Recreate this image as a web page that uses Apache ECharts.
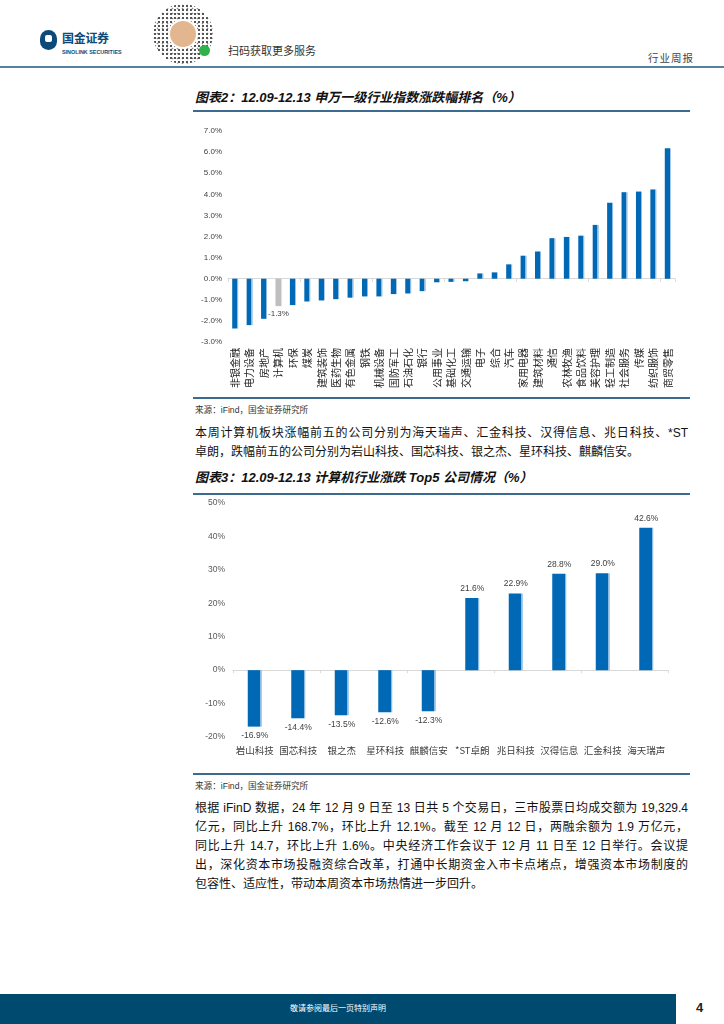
<!DOCTYPE html>
<html>
<head>
<meta charset="utf-8">
<script src="https://cdn.jsdelivr.net/npm/echarts@6/dist/echarts.min.js"></script>
<style>
  html, body { margin:0; padding:0; background:#fff; }
  body { width:724px; height:1024px; position:relative; overflow:hidden;
         font-family:"Liberation Sans", Arial, "Noto Sans CJK SC", sans-serif; color:#222; }
  .abs { position:absolute; white-space:nowrap; }
  .hline { position:absolute; height:2px; background:#3d6b8f; }
  .title { font-size:13px; font-weight:bold; font-style:italic; color:#111; }
  .src { font-size:8.6px; color:#333; }
  .para { font-size:12px; color:#111; width:493px; height:19px; line-height:19px; }
  .just { text-align:justify; text-align-last:justify; }
  #chart { position:absolute; left:0; top:0; width:724px; height:1024px; }
</style>
</head>
<body>
<!-- header -->
<div class="abs" style="left:40px;top:30px;width:17px;height:20px;border-radius:9px;background:#0d4a78;"></div>
<div class="abs" style="left:45px;top:35px;width:7px;height:7px;background:#fff;border-radius:2px;"></div>
<div class="abs" style="left:62px;top:32px;font-size:12px;font-weight:bold;color:#0d4a78;line-height:15px;letter-spacing:-0.3px;">国金证券</div>
<div class="abs" style="left:62px;top:49px;font-size:5.4px;font-weight:bold;color:#0d4a78;line-height:7px;">SINOLINK SECURITIES</div>
<div class="abs" style="left:153px;top:4px;width:60px;height:60px;border-radius:50%;
  background:radial-gradient(circle,#555 0 0.9px,transparent 1.3px) 0 0/4px 4px,
             radial-gradient(circle,#888 0 0.7px,transparent 1.1px) 2px 2px/5px 5px,#fff;"></div>
<div class="abs" style="left:168px;top:19px;width:30px;height:30px;border-radius:50%;background:#fff;"></div>
<div class="abs" style="left:170px;top:21px;width:26px;height:26px;border-radius:50%;background:#e2b68e;"></div>
<div class="abs" style="left:199px;top:45px;width:11px;height:11px;border-radius:50%;background:#2db34a;"></div>
<div class="abs" style="left:228px;top:44px;font-size:11px;color:#333;line-height:14px;">扫码获取更多服务</div>
<div class="abs" style="left:648px;top:51px;font-size:10.5px;color:#444;line-height:14px;letter-spacing:1px;">行业周报</div>
<div class="hline" style="left:0;top:66px;width:724px;background:#58809f;"></div>

<!-- figure 2 -->
<div class="abs title" style="left:195px;top:90px;line-height:16px;">图表2：12.09-12.13 申万一级行业指数涨跌幅排名（%）</div>
<div class="hline" style="left:193px;top:110px;width:497px;"></div>
<div class="hline" style="left:193px;top:397px;width:497px;"></div>
<div class="abs src" style="left:195px;top:405px;line-height:10px;">来源：iFind，国金证券研究所</div>
<div class="abs para just" style="left:195px;top:424px;">本周计算机板块涨幅前五的公司分别为海天瑞声、汇金科技、汉得信息、兆日科技、*ST</div>
<div class="abs para" style="left:195px;top:443px;">卓朗，跌幅前五的公司分别为岩山科技、国芯科技、银之杰、星环科技、麒麟信安。</div>

<!-- figure 3 -->
<div class="abs title" style="left:195px;top:470px;line-height:16px;">图表3：12.09-12.13 计算机行业涨跌 Top5 公司情况（%）</div>
<div class="hline" style="left:193px;top:493px;width:497px;"></div>
<div class="hline" style="left:193px;top:773px;width:497px;"></div>
<div class="abs src" style="left:195px;top:781px;line-height:10px;">来源：iFind，国金证券研究所</div>
<div class="abs para just" style="left:195px;top:799px;">根据 iFinD 数据，24 年 12 月 9 日至 13 日共 5 个交易日，三市股票日均成交额为 19,329.4</div>
<div class="abs para just" style="left:195px;top:818px;">亿元，同比上升 168.7%，环比上升 12.1%。截至 12 月 12 日，两融余额为 1.9 万亿元，</div>
<div class="abs para just" style="left:195px;top:837px;">同比上升 14.7，环比上升 1.6%。中央经济工作会议于 12 月 11 日至 12 日举行。会议提</div>
<div class="abs para just" style="left:195px;top:856px;">出，深化资本市场投融资综合改革，打通中长期资金入市卡点堵点，增强资本市场制度的</div>
<div class="abs para" style="left:195px;top:875px;">包容性、适应性，带动本周资本市场热情进一步回升。</div>

<!-- footer -->
<div class="abs" style="left:0;top:994px;width:676px;height:30px;background:#004a6f;"></div>
<div class="abs" style="left:0;top:994px;width:676px;height:30px;line-height:30px;text-align:center;font-size:8px;color:#fff;">敬请参阅最后一页特别声明</div>
<div class="abs" style="left:696px;top:1000px;font-size:13px;font-weight:bold;color:#222;line-height:16px;">4</div>

<div id="chart"></div>
<script>
// ---------- data: figure 2 (SW level-1 industries, weekly change %) ----------
const industries = ['非银金融','电力设备','房地产','计算机','环保','煤炭','建筑装饰','医药生物','有色金属','钢铁',
  '机械设备','国防军工','石油石化','银行','公用事业','基础化工','交通运输','电子','综合','汽车',
  '家用电器','建筑材料','通信','农林牧渔','食品饮料','美容护理','轻工制造','社会服务','传媒','纺织服饰','商贸零售'];
const industryChange = [-2.36,-2.20,-1.90,-1.30,-1.25,-1.08,-1.03,-0.97,-0.90,-0.84,
  -0.84,-0.73,-0.70,-0.59,-0.17,-0.15,-0.12,0.25,0.30,0.68,
  1.09,1.29,1.92,1.98,2.04,2.55,3.60,4.10,4.13,4.23,6.18];
const highlightIndustry = '计算机';
const industryTicks = [-3, 7, 1];   // min, max, interval

// ---------- data: figure 3 (computer sector top/bottom 5, %) ----------
const companies = ['岩山科技','国芯科技','银之杰','星环科技','麒麟信安','*ST卓朗','兆日科技','汉得信息','汇金科技','海天瑞声'];
const companyChange = [-16.9,-14.4,-13.5,-12.6,-12.3,21.6,22.9,28.8,29.0,42.6];
const companyTicks = [-20, 50, 10];

const BLUE = '#0068b5', EDGE = '#8dbbe1', GRAY = '#bfbfbf';
function barFill(c, edge, cut) {
  return { type:'linear', x:0, y:0, x2:1, y2:0,
    colorStops:[{offset:0,color:c},{offset:cut,color:c},{offset:cut,color:edge},{offset:1,color:edge}] };
}

const chart = echarts.init(document.getElementById('chart'), null, {renderer:'canvas'});
chart.setOption({
  animation:false,
  grid:[
    {left:228, right:49, top:131, height:211},
    {left:233, right:56, top:503, height:234}
  ],
  xAxis:[
    {gridIndex:0, type:'category', data:industries,
      axisLine:{onZero:true, lineStyle:{color:'#d9d9d9'}},
      axisTick:{show:true, length:3, lineStyle:{color:'#d9d9d9'}},
      axisLabel:{show:false}},
    {gridIndex:0, type:'category', data:industries, position:'bottom',
      axisLine:{show:false, onZero:false}, axisTick:{show:false},
      axisLabel:{rotate:90, fontSize:10, margin:6, color:'#222', interval:0,
        fontFamily:'Noto Sans CJK SC'}},
    {gridIndex:1, type:'category', data:companies,
      axisLine:{onZero:true, lineStyle:{color:'#d9d9d9'}},
      axisTick:{show:true, length:3, lineStyle:{color:'#d9d9d9'}},
      axisLabel:{show:false}},
    {gridIndex:1, type:'category', data:companies, position:'bottom',
      axisLine:{show:false, onZero:false}, axisTick:{show:false},
      axisLabel:{fontSize:9.5, margin:9, color:'#404040', interval:0,
        fontFamily:'Noto Sans CJK SC'}}
  ],
  yAxis:[
    {gridIndex:0, type:'value', min:industryTicks[0], max:industryTicks[1], interval:industryTicks[2],
      axisLine:{show:false}, axisTick:{show:false}, splitLine:{show:false},
      axisLabel:{fontSize:8, color:'#404040', margin:6, fontFamily:'Liberation Sans',
        formatter:v=>v.toFixed(1)+'%'}},
    {gridIndex:1, type:'value', min:companyTicks[0], max:companyTicks[1], interval:companyTicks[2],
      axisLine:{show:false}, axisTick:{show:false}, splitLine:{show:false},
      axisLabel:{fontSize:8.5, color:'#595959', margin:8, fontFamily:'Liberation Sans',
        formatter:v=>v+'%'}}
  ],
  series:[
    {type:'bar', xAxisIndex:0, yAxisIndex:0, barWidth:6,
      data: industryChange.map((v,i)=>{
        const hl = industries[i]===highlightIndustry;
        return { value:v,
          itemStyle:{color: hl ? GRAY : barFill(BLUE, EDGE, 0.8)},
          label: hl ? {show:true, position:'bottom', distance:4, fontSize:8, color:'#404040',
                       fontFamily:'Liberation Sans', formatter:p=>p.value.toFixed(1)+'%'} : {show:false} };
      })},
    {type:'bar', xAxisIndex:2, yAxisIndex:1, barWidth:14,
      itemStyle:{color:barFill(BLUE, EDGE, 0.9)},
      data: companyChange.map(v=>({ value:v,
        label:{show:true, position: v<0 ? 'bottom':'top', distance:5, fontSize:8.5, color:'#404040',
          fontFamily:'Liberation Sans', formatter:p=>p.value.toFixed(1)+'%'} }))}
  ]
});
</script>
</body>
</html>
